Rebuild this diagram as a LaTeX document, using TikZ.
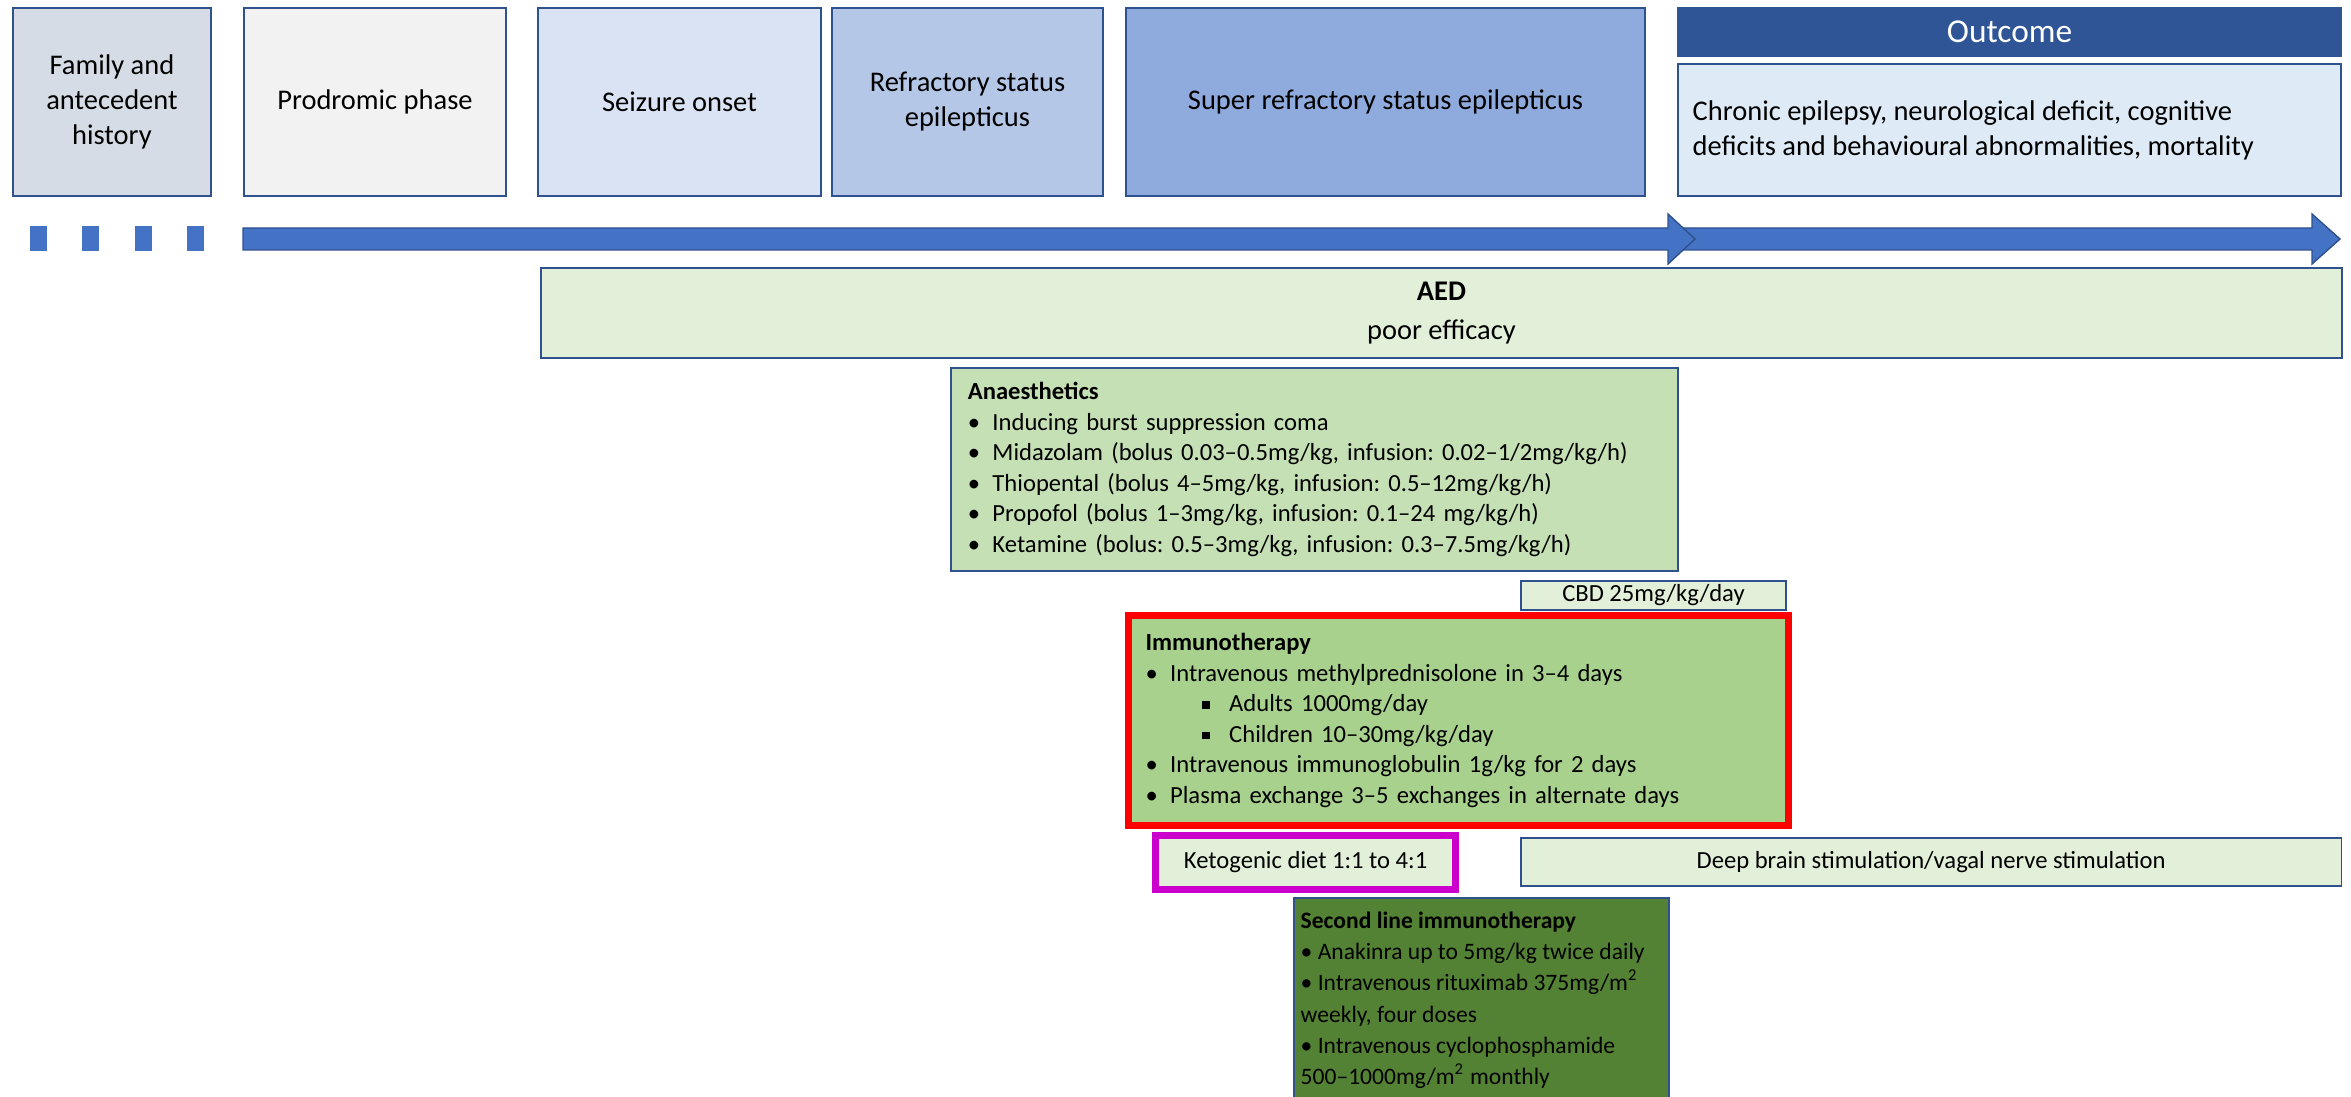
\documentclass[tikz,border=0pt]{standalone}
\usepackage{fontspec}
\setmainfont{Carlito}
\usetikzlibrary{positioning}
\frenchspacing

\definecolor{edgeblue}{HTML}{2F528F}
\definecolor{famgray}{HTML}{D6DCE5}
\definecolor{prodgray}{HTML}{F2F2F2}
\definecolor{seizblue}{HTML}{DAE3F3}
\definecolor{refrblue}{HTML}{B4C7E7}
\definecolor{suprblue}{HTML}{8FAADC}
\definecolor{outdark}{HTML}{2F5597}
\definecolor{outlight}{HTML}{DEEBF7}
\definecolor{arrowblue}{HTML}{4472C4}
\definecolor{palegreen}{HTML}{E2F0D9}
\definecolor{lightgreen}{HTML}{C5E0B4}
\definecolor{midgreen}{HTML}{A9D18E}
\definecolor{darkgreen}{HTML}{548235}
\definecolor{ketomag}{HTML}{CC00CC}

\newcommand{\bul}{\makebox[1em][l]{\textbullet}}
\newcommand{\subbul}{\hspace*{2.3em}\makebox[1.1em][l]{\rule[0.12em]{0.32em}{0.32em}}}

\tikzset{
  phasebox/.style={draw=edgeblue, line width=0.5pt, anchor=north west, inner sep=0pt},
  phasetxt/.style={align=center, inner sep=0pt, font=\fontsize{8.1}{9.9}\selectfont},
  listbox/.style={draw=edgeblue, line width=0.5pt, anchor=north west, align=left,
    font=\fontsize{7}{8.7}\selectfont},
  smallbox/.style={draw=edgeblue, line width=0.5pt, anchor=north west, inner sep=0pt,
    font=\fontsize{7}{8.7}\selectfont},
}

\begin{document}
\begin{tikzpicture}[x=0.01cm, y=-0.01cm]
\useasboundingbox (0,0) rectangle (2351,1097);
%%%%%%%%%%%%%%%%%%%
% The phases

\node[phasebox, fill=famgray, minimum width=1.98cm, minimum height=1.88cm] (fam) at (12,7) {};
\node[phasebox, fill=prodgray, minimum width=2.62cm, minimum height=1.88cm] (prod) at (243,7) {};
\node[phasebox, fill=seizblue, minimum width=2.83cm, minimum height=1.88cm] (seiz) at (537,7) {};
\node[phasebox, fill=refrblue, minimum width=2.71cm, minimum height=1.88cm] (refr) at (831,7) {};
\node[phasebox, fill=suprblue, minimum width=5.19cm, minimum height=1.88cm] (supr) at (1125,7) {};

\node[phasetxt] (famtxt) at (fam.center) {Family and\\antecedent\\history};
\node[phasetxt] (prodtxt) at (prod.center) {Prodromic phase};
\node[phasetxt] (seiztxt) at (seiz.center) {Seizure onset};
\node[phasetxt] (refrtxt) at (refr.center) {Refractory status\\epilepticus};
\node[phasetxt] (suprtxt) at (supr.center) {Super refractory status epilepticus};

%%%%%%%%%%%%%%%%%%%
% OUTCOME

\node[phasebox, fill=outdark, draw=outdark, minimum width=6.63cm, minimum height=0.48cm] (outhead) at (1677,7) {};
\node[text=white, font=\fontsize{9.5}{11}\selectfont] (outtitle) at (outhead.center) {Outcome};
\node[phasebox, fill=outlight, minimum width=6.63cm, minimum height=1.32cm] (outbody) at (1677,63) {};
\node[phasetxt, align=left, anchor=west] (outtxt) at (1692,130)
  {Chronic epilepsy, neurological deficit, cognitive\\deficits and behavioural abnormalities, mortality};

%%%%%%%%%%%%%%%%%%%
% TIME LINE

\foreach \xa in {30,82,135,187}
  \fill [arrowblue] (\xa,226) rectangle (\xa+17,251);

\draw [line width=0.4pt, draw=edgeblue, fill=arrowblue] (1680,228) -- (2312,228) -- (2312,214) -- (2340,239)
  -- (2312,264) -- (2312,250) -- (1680,250) -- cycle;
\draw [line width=0.4pt, draw=edgeblue, fill=arrowblue] (243,228) -- (1668,228) -- (1668,214) -- (1695,239)
  -- (1668,264) -- (1668,250) -- (243,250) -- cycle;

%%%%%%%%%%%%%%%%%%%
% TREATMENTS

\node[phasebox, fill=palegreen, minimum width=18cm, minimum height=0.9cm] (aed) at (540,267) {};
\node[phasetxt] (aedtxt) at (aed.center) {\textbf{AED}\\[1pt]poor efficacy};

\node[listbox, fill=lightgreen, text width=6.93cm, minimum height=2.03cm, inner xsep=0.17cm] (anae) at (950,367)
  {\textbf{Anaesthetics}\\
   \bul Inducing burst suppression coma\\
   \bul Midazolam (bolus 0.03–0.5mg/kg, infusion: 0.02–1/2mg/kg/h)\\
   \bul Thiopental (bolus 4–5mg/kg, infusion: 0.5–12mg/kg/h)\\
   \bul Propofol (bolus 1–3mg/kg, infusion: 0.1–24 mg/kg/h)\\
   \bul Ketamine (bolus: 0.5–3mg/kg, infusion: 0.3–7.5mg/kg/h)};

\node[smallbox, fill=palegreen, minimum width=2.65cm, minimum height=0.29cm] (cbd) at (1520,580) {};
\node[font=\fontsize{7}{8.7}\selectfont, inner sep=0pt] (cbdtxt) at (cbd.center) {CBD 25mg/kg/day};

\node[listbox, fill=midgreen, draw=red, line width=2pt, text width=6.26cm, minimum height=2.1cm, inner xsep=0.17cm] (immu) at (1125,612)
  {\textbf{Immunotherapy}\\
   \bul Intravenous methylprednisolone in 3–4 days\\
   \subbul Adults 1000mg/day\\
   \subbul Children 10–30mg/kg/day\\
   \bul Intravenous immunoglobulin 1g/kg for 2 days\\
   \bul Plasma exchange 3–5 exchanges in alternate days};

\node[smallbox, fill=palegreen, draw=ketomag, line width=2pt, minimum width=3cm, minimum height=0.54cm] (keto) at (1152,832) {};
\node[font=\fontsize{7}{8.7}\selectfont, inner sep=0pt] (ketotxt) at (keto.center) {Ketogenic diet 1:1 to 4:1};

\node[smallbox, fill=palegreen, minimum width=8.2cm, minimum height=0.48cm] (dbs) at (1520,837) {};
\node[font=\fontsize{7}{8.7}\selectfont, inner sep=0pt] (dbstxt) at (dbs.center) {Deep brain stimulation/vagal nerve stimulation};

\node[smallbox, fill=darkgreen, minimum width=3.75cm, minimum height=2.3cm] (second) at (1293,897) {};
\node[anchor=north west, align=left, inner sep=0pt, font=\fontsize{6.7}{8.9}\selectfont] (secondtxt)
  at ([xshift=0.07cm, yshift=-0.14cm]second.north west)
  {\textbf{Second line immunotherapy}\\
   \textbullet{} Anakinra up to 5mg/kg twice daily\\
   \textbullet{} Intravenous rituximab 375mg/m\textsuperscript{2}\\
   weekly, four doses\\
   \textbullet{} Intravenous cyclophosphamide\\
   500–1000mg/m\textsuperscript{2} monthly};

\end{tikzpicture}
\end{document}
